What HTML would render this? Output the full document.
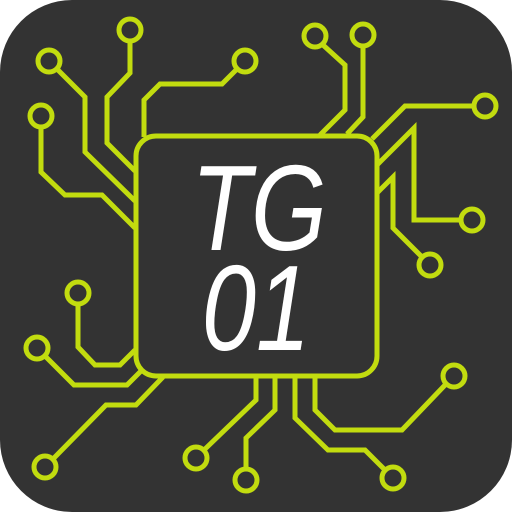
<!DOCTYPE html>
<html><head><meta charset="utf-8"><style>html,body{margin:0;padding:0;background:#fff}svg{display:block}</style></head>
<body>
<svg width="512" height="512" viewBox="0 0 512 512">
<rect x="0" y="0" width="512" height="512" rx="72" fill="#333333"/>
<g fill="none" stroke="#c2dc0f" stroke-width="5" stroke-linejoin="miter">
<path d="M130,41V73L107,97V143L135,171"/>
<circle cx="130" cy="30" r="11"/>
<path d="M57,69L85,97V152L135,201"/>
<circle cx="49" cy="61" r="11"/>
<path d="M41,127V172L65,195H102L135,228"/>
<circle cx="41" cy="116" r="11"/>
<path d="M237,69L222,84H160L144,100V137"/>
<circle cx="245" cy="61" r="11"/>
<path d="M323,45L345,65V110L320,135"/>
<circle cx="315" cy="36" r="11"/>
<path d="M363,46V117L347,134"/>
<circle cx="363" cy="35" r="11"/>
<path d="M474,106H405L372,139"/>
<circle cx="485" cy="106" r="11"/>
<path d="M377,165L414,128V220H461"/>
<circle cx="472" cy="220" r="11"/>
<path d="M377,193L393,177V228L422,257"/>
<circle cx="430" cy="265" r="11"/>
<path d="M78,304V347L95,365H120L135,350"/>
<circle cx="78" cy="293" r="11"/>
<path d="M45,356L74,385H127L142,370"/>
<circle cx="37" cy="348" r="11"/>
<path d="M53,459L106,405H136L163,377"/>
<circle cx="45" cy="467" r="11"/>
<path d="M204,450L256,400V377"/>
<circle cx="196" cy="458" r="11"/>
<path d="M246,469V438L275,410V377"/>
<circle cx="246" cy="480" r="11"/>
<path d="M385,470L365,450H328L295,418V377"/>
<circle cx="393" cy="478" r="11"/>
<path d="M446,384L402,430H335L315,410V377"/>
<circle cx="454" cy="376" r="11"/>
<rect x="136" y="136" width="241" height="240" rx="20" fill="#333333"/>
</g>
<g fill="#ffffff" font-family="'Liberation Sans', sans-serif" font-style="italic" font-size="122">
<text x="0" y="0" text-anchor="middle" transform="translate(259,250) scale(0.8,1)">TG</text>
<text x="0" y="0" text-anchor="middle" transform="translate(256,350) scale(0.8,1)">01</text>
</g>
</svg>
</body></html>
